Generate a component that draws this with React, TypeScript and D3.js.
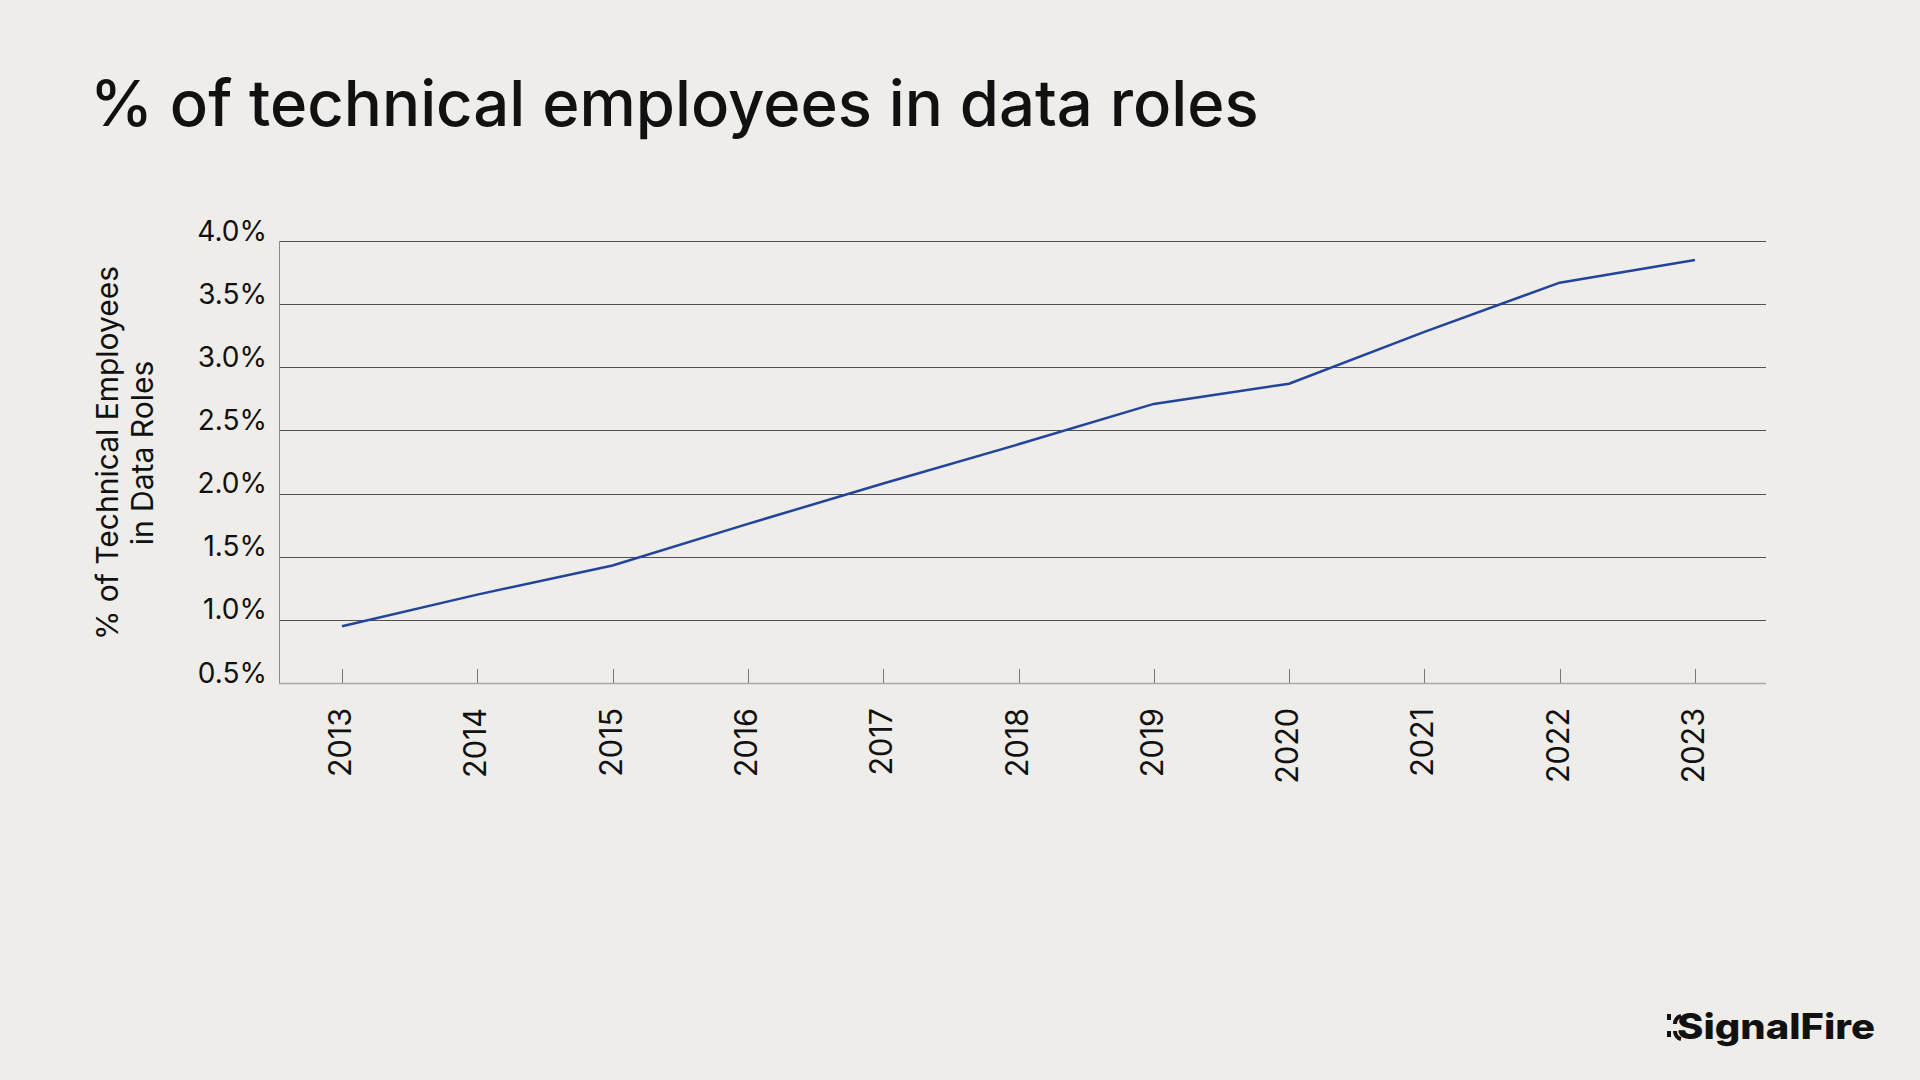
import React from "react";
import * as d3 from "d3";

const width = 1920;
const height = 1080;
const margin = { top: 241, right: 154, bottom: 397, left: 279 };

// values (share of technical employees in data roles, %)
const years = [2013, 2014, 2015, 2016, 2017, 2018, 2019, 2020, 2021, 2022, 2023];
const shares = [0.95, 1.2, 1.43, 1.76, 2.08, 2.39, 2.71, 2.87, 3.28, 3.67, 3.85];
const yTicks = [0.5, 1.0, 1.5, 2.0, 2.5, 3.0, 3.5, 4.0];

const title = "% of technical employees in data roles";
const yTitle = ["% of Technical Employees", "in Data Roles"];
const brand = "SignalFire";

const font = "Inter, 'Noto Sans', sans-serif";

const App = () => {
  const x0 = margin.left;
  const x1 = width - margin.right;
  const yTop = margin.top;
  const yBottom = height - margin.bottom;

  const xScale = d3.scaleLinear().domain([2013, 2023]).range([342, 1695]);
  const yScale = d3.scaleLinear().domain([0.5, 4.0]).range([yBottom, yTop]);

  const line = d3
    .line<number>()
    .x((d, i) => xScale(years[i]))
    .y((d) => yScale(d));

  return (
    <svg
      width={width}
      height={height}
      style={{ position: "absolute", left: 0, top: 0, background: "#eeede9" }}
    >
      <rect width={width} height={height} fill="#eeede9" />
      <text x={90} y={126} fontFamily={font} fontSize={63.4} fontWeight={500} fill="#111">
        {title}
      </text>

      {/* gridlines */}
      {yTicks.slice(1).map((t) => (
        <line
          key={t}
          x1={x0}
          x2={x1}
          y1={Math.round(yScale(t)) + 0.5}
          y2={Math.round(yScale(t)) + 0.5}
          stroke="#505050"
          strokeWidth={1}
        />
      ))}
      {/* axes */}
      <line x1={x0 + 0.5} x2={x0 + 0.5} y1={yTop} y2={yBottom} stroke="#8a8a8a" />
      <line x1={x0} x2={x1} y1={yBottom + 0.5} y2={yBottom + 0.5} stroke="#a8a8a8" strokeWidth={1.5} />

      {years.map((yr) => (
        <line
          key={yr}
          x1={Math.round(xScale(yr)) + 0.5}
          x2={Math.round(xScale(yr)) + 0.5}
          y1={yBottom - 14}
          y2={yBottom}
          stroke="#777"
        />
      ))}

      {yTicks.map((t) => (
        <text
          key={t}
          x={267}
          y={yScale(t) - 0.5}
          textAnchor="end"
          fontFamily={font}
          fontSize={28}
          fill="#111"
        >
          {t.toFixed(1) + "%"}
        </text>
      ))}

      {years.map((yr) => (
        <text
          key={yr}
          transform={`translate(${xScale(yr) + 9},708) rotate(-90)`}
          textAnchor="end"
          fontFamily={font}
          fontSize={30.5}
          fill="#111"
        >
          {yr}
        </text>
      ))}

      <g transform="translate(0,453) rotate(-90)" fontFamily={font} fontSize={30} fill="#111">
        <text x={0} y={118} textAnchor="middle">
          {yTitle[0]}
        </text>
        <text x={0} y={153} textAnchor="middle">
          {yTitle[1]}
        </text>
      </g>

      <path d={line(shares) || ""} fill="none" stroke="#22449b" strokeWidth={2.5} />

      {/* logo mark */}
      <g fill="#111">
        <rect x={1667} y={1014} width={4} height={6} />
        <rect x={1667} y={1031} width={4} height={6} />
      </g>
      <g fill="none" stroke="#111" strokeWidth={4}>
        <path d="M1681,1016 A8,8 0 0 0 1675,1024" />
        <path d="M1675,1031 A8,8 0 0 0 1681,1039" />
      </g>
      <text
        x={1677}
        y={1039}
        fontFamily={font}
        fontSize={35}
        fontWeight={800}
        textLength={198}
        lengthAdjust="spacingAndGlyphs"
        fill="#111"
      >
        {brand}
      </text>
    </svg>
  );
};

export default App;
